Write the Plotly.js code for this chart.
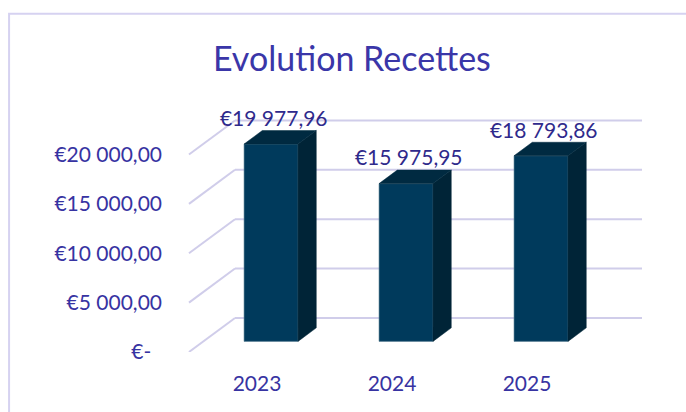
<!DOCTYPE html>
<html><head><meta charset="utf-8">
<script src="https://cdn.plot.ly/plotly-3.0.1.min.js"></script>
<style>html,body{margin:0;padding:0;background:#fff}</style></head>
<body><div id="c" style="width:686px;height:412px"></div>
<script>
const years = ["2023","2024","2025"];
const recettes = [19977.96,15975.95,18793.86];
const labels = ["€19 977,96","€15 975,95","€18 793,86"];
const tickValues = [0,5000,10000,15000,20000];
const tickLabels = ["€-\u00A0\u00A0","€5 000,00","€10 000,00","€15 000,00","€20 000,00"];

// 3D look: offsets in axis units (x: category spacing, y: euros)
const barShift = 0.104, barHalf = 0.2, depthX = 0.135, depthY = 1370, barBase = 1075, labelLift = 2370;
const wallX = -0.163, wallY = 3448, rightX = 2.852, axisLeft = -0.526, gridLeft = -0.504;
const gridColor = "#d0cdea", frontColor = "#003a5c", sideColor = "#002437", topColor = "#002a41";
const labelColor = "#2f2a8c", axisColor = "#3733a2", titleColor = "#3a36a8";
const font = "Lato, Carlito, sans-serif";

const xs = years.map((_, i) => i + barShift);
const tops = recettes.map(v => v + barBase);

const front = {type:"bar", x:xs, y:recettes, base:barBase, width:2*barHalf,
  marker:{color:frontColor, line:{color:"#5d8396", width:0.6}}, hoverinfo:"skip"};

function poly(pts, color){
  return {type:"scatter", mode:"lines", x:pts.map(p=>p[0]), y:pts.map(p=>p[1]), fill:"toself",
    fillcolor:color, line:{color:color, width:0.5}, hoverinfo:"skip"};
}
const sides = xs.map((x,i)=>poly([[x+barHalf,barBase],[x+barHalf+depthX,barBase+depthY],
  [x+barHalf+depthX,tops[i]+depthY],[x+barHalf,tops[i]],[x+barHalf,barBase]], sideColor));
const lids = xs.map((x,i)=>poly([[x-barHalf,tops[i]],[x-barHalf+depthX,tops[i]+depthY],
  [x+barHalf+depthX,tops[i]+depthY],[x+barHalf,tops[i]],[x-barHalf,tops[i]]], topColor));

const valueLabels = {type:"scatter", mode:"text", x:xs.map(x=>x+0.02), y:tops.map(t=>t+labelLift), text:labels,
  textposition:"middle center", textfont:{family:font, size:21, color:labelColor}, hoverinfo:"skip"};

const gridShapes = [];
tickValues.forEach(v=>{
  gridShapes.push({type:"line", layer:"below", xref:"x", yref:"y", x0:gridLeft, y0:v, x1:wallX, y1:v+wallY, line:{color:gridColor,width:2}});
  gridShapes.push({type:"line", layer:"below", xref:"x", yref:"y", x0:wallX, y0:v+wallY, x1:rightX, y1:v+wallY, line:{color:gridColor,width:2}});
});

const layout = {
  width:686, height:412, showlegend:false, paper_bgcolor:"#fff", plot_bgcolor:"rgba(0,0,0,0)",
  margin:{l:186,r:44,t:100,b:60.4,pad:0},
  title:{text:"Evolution Recettes", x:0.513, xanchor:"center", y:0.857, yanchor:"middle",
    font:{family:font, size:34, color:titleColor}},
  xaxis:{range:[axisLeft,rightX], tickmode:"array", tickvals:[0,1,2], ticktext:years, showgrid:false, zeroline:false,
    showline:false, ticks:"", ticklabelstandoff:17, tickfont:{family:font, size:21, color:axisColor}, fixedrange:true},
  yaxis:{range:[0,25517], tickmode:"array", tickvals:tickValues, ticktext:tickLabels, showgrid:false, zeroline:false,
    showline:false, ticks:"", ticklabelstandoff:23, tickfont:{family:font, size:21, color:axisColor}, fixedrange:true},
  shapes: gridShapes.concat([
    {type:"path", xref:"paper", yref:"paper", layer:"above", path:"M -0.388 -0.3 L -0.388 1.3418 L 1.12 1.3418", line:{color:"#d6d2f1",width:2}}
  ])
};
Plotly.newPlot("c",[front,...sides,...lids,valueLabels],layout,{displayModeBar:false,responsive:false});
</script></body></html>
